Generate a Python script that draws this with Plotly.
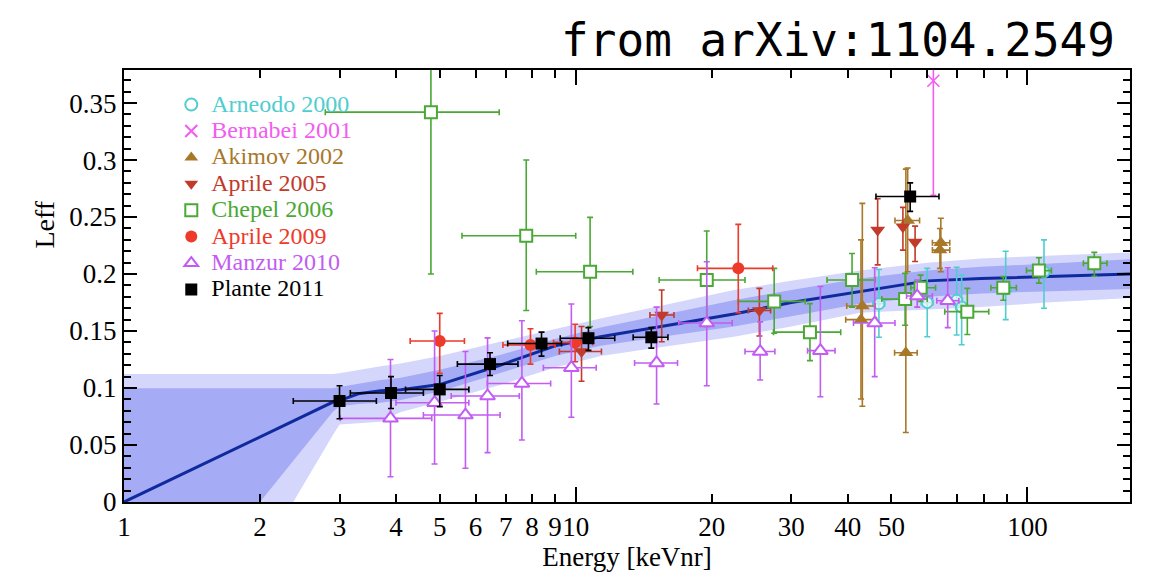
import plotly.graph_objects as go

# ---------------- band (fit) ----------------
band_E = [1, 2.0, 2.37, 2.9, 3.0, 3.3, 3.7, 4.1, 5, 6.8, 9, 11.35, 15, 22.4, 30, 42.6, 60, 79, 110, 170]
band_line = [0, 0.057, 0.0711, 0.0877, 0.089, 0.095, 0.0977, 0.0985, 0.103, 0.120, 0.137, 0.145, 0.153, 0.165, 0.175, 0.1845, 0.194, 0.196, 0.198, 0.200]
inner_lo = [0, 0, 0.0362, 0.0792, 0.084, 0.086, 0.087, 0.0895, 0.097, 0.113, 0.128, 0.137, 0.144, 0.154, 0.163, 0.174, 0.180, 0.183, 0.185, 0.187]
inner_hi = [0.0997, 0.0997, 0.0997, 0.0997, 0.101, 0.104, 0.107, 0.109, 0.116, 0.129, 0.143, 0.153, 0.163, 0.177, 0.186, 0.196, 0.203, 0.2064, 0.209, 0.213]
outer_lo = [0, 0, 0, 0.0587, 0.068, 0.069, 0.0705, 0.079, 0.088, 0.1026, 0.118, 0.128, 0.135, 0.145, 0.154, 0.166, 0.169, 0.171, 0.175, 0.179]
outer_hi = [0.1123, 0.1123, 0.1123, 0.1123, 0.113, 0.116, 0.119, 0.1216, 0.128, 0.1406, 0.152, 0.161, 0.171, 0.186, 0.194, 0.203, 0.210, 0.2137, 0.216, 0.219]

# ---------------- data series ----------------
arneodo_E = [46.9, 60.0, 69.7, 71.5, 89.5, 108.8]
arneodo_y = [0.174, 0.175, 0.177, 0.171, 0.187, 0.202]
arneodo_Elo = [45.5, 58.2, 67.6, 69.4, 87.0, 105.6]
arneodo_Ehi = [48.3, 61.8, 71.8, 73.6, 92.0, 112.0]
arneodo_ylo = [0.1445, 0.145, 0.1465, 0.138, 0.160, 0.170]
arneodo_yhi = [0.204, 0.205, 0.206, 0.199, 0.220, 0.230]

bernabei_E = [61.9]
bernabei_y = [0.3696]
bernabei_ylo = [0.269]
bernabei_yhi = [0.45]

akimov_E = [43.1, 42.8, 53.8, 54.3, 64.3, 64.0]
akimov_y = [0.172, 0.160, 0.131, 0.247, 0.2275, 0.221]
akimov_Elo = [39.8, 39.6, 50.8, 50.9, 61.6, 61.6]
akimov_Ehi = [46.0, 46.3, 57.0, 57.7, 67.3, 67.3]
akimov_ylo = [0.084, 0.0904, 0.061, 0.202, 0.202, 0.205]
akimov_yhi = [0.262, 0.230, 0.292, 0.293, 0.249, 0.240]

aprile05_E = [10.3, 15.5, 25.5, 46.6, 53.0, 56.4]
aprile05_y = [0.132, 0.164, 0.168, 0.2386, 0.2415, 0.228]
aprile05_Elo = [9.2, 14.6, 24.1, 46.6, 53.0, 56.4]
aprile05_Ehi = [11.4, 16.5, 27.0, 46.6, 53.0, 56.4]
aprile05_ylo = [0.106, 0.1406, 0.1456, 0.208, 0.221, 0.211]
aprile05_yhi = [0.154, 0.186, 0.1874, 0.266, 0.2585, 0.242]

chepel_E = [4.78, 7.77, 10.76, 19.5, 27.5, 33.0, 40.9, 53.6, 58.0, 73.6, 88.4, 106, 140.6]
chepel_y = [0.342, 0.2336, 0.202, 0.1947, 0.176, 0.149, 0.1947, 0.178, 0.188, 0.167, 0.188, 0.203, 0.2094]
chepel_Elo = [2.79, 5.6, 8.18, 15.3, 22.9, 27.4, 36.0, 47.6, 55.2, 65.6, 83.0, 99.5, 133]
chepel_Ehi = [6.77, 10.0, 13.38, 23.7, 32.2, 38.6, 46.0, 60.0, 62.6, 82.1, 94.5, 113, 150]
chepel_ylo = [0.200, 0.168, 0.154, 0.154, 0.148, 0.124, 0.171, 0.155, 0.176, 0.147, 0.177, 0.192, 0.198]
chepel_yhi = [0.45, 0.300, 0.2497, 0.2377, 0.205, 0.174, 0.218, 0.2006, 0.199, 0.1874, 0.1977, 0.2143, 0.219]

aprile09_E = [5.0, 7.94, 9.97, 22.9]
aprile09_y = [0.1412, 0.1377, 0.140, 0.205]
aprile09_Elo = [4.3, 6.9, 8.93, 18.6]
aprile09_Ehi = [5.67, 9.0, 10.9, 27.3]
aprile09_ylo = [0.113, 0.121, 0.123, 0.166]
aprile09_yhi = [0.1655, 0.152, 0.156, 0.2436]

manzur_E = [3.89, 4.87, 5.7, 6.38, 7.6, 9.78, 15.1, 19.5, 25.6, 34.8, 45.9, 57.0, 66.6]
manzur_y = [0.0734, 0.0871, 0.0763, 0.093, 0.104, 0.1178, 0.122, 0.157, 0.132, 0.1328, 0.157, 0.1807, 0.1766]
manzur_Elo = [3.01, 4.0, 4.6, 5.3, 6.37, 8.48, 13.5, 16.9, 23.7, 32.6, 41.2, 54.0, 63.0]
manzur_Ehi = [4.8, 5.8, 6.8, 7.5, 8.8, 11.1, 16.8, 22.2, 27.6, 37.5, 50.9, 61.6, 70.5]
manzur_ylo = [0.0222, 0.0333, 0.0296, 0.0433, 0.0544, 0.0743, 0.086, 0.102, 0.107, 0.0924, 0.110, 0.171, 0.153]
manzur_yhi = [0.125, 0.15, 0.132, 0.144, 0.159, 0.1737, 0.171, 0.2108, 0.158, 0.189, 0.2055, 0.1947, 0.2055]

plante_E = [3.0, 3.9, 5.0, 6.46, 8.4, 10.67, 14.7, 55]
plante_y = [0.0886, 0.0956, 0.0988, 0.121, 0.139, 0.1437, 0.1445, 0.268]
plante_Elo = [2.37, 3.17, 4.2, 5.47, 7.07, 9.24, 13.4, 46.2]
plante_Ehi = [3.62, 4.6, 5.8, 7.45, 9.3, 12.2, 16.0, 63.7]
plante_ylo = [0.073, 0.082, 0.0836, 0.111, 0.128, 0.133, 0.135, 0.255]
plante_yhi = [0.102, 0.110, 0.111, 0.131, 0.149, 0.153, 0.153, 0.280]

x_tickvals = [1, 2, 3, 4, 5, 6, 7, 8, 9, 10, 20, 30, 40, 50, 60, 70, 80, 90, 100]
x_ticktext = ["1", "2", "3", "4", "5", "6", "7", "8", "9", "10", "20", "30", "40", "50", "", "", "", "", "100"]
x_major = [1, 10, 100]

SERIF = "Liberation Serif, Times New Roman, serif"

fig = go.Figure()

# bands
fig.add_trace(go.Scatter(x=band_E + band_E[::-1], y=outer_hi + outer_lo[::-1], fill="toself",
                         fillcolor="rgb(212,214,251)", line=dict(width=0), mode="lines",
                         showlegend=False, hoverinfo="skip"))
fig.add_trace(go.Scatter(x=band_E + band_E[::-1], y=inner_hi + inner_lo[::-1], fill="toself",
                         fillcolor="rgb(166,171,245)", line=dict(width=0), mode="lines",
                         showlegend=False, hoverinfo="skip"))
fig.add_trace(go.Scatter(x=band_E, y=band_line, mode="lines", line=dict(color="#0f2a9c", width=3),
                         showlegend=False, hoverinfo="skip"))


def diff(a, b):
    return [abs(p - q) for p, q in zip(a, b)]


def series(name, color, E, y, Elo, Ehi, ylo, yhi, symbol, size, fill, lw=1.8):
    ex = None
    if Elo is not None:
        ex = dict(type="data", symmetric=False, array=diff(Ehi, E), arrayminus=diff(E, Elo),
                  color=color, thickness=1.6, width=3)
    ey = dict(type="data", symmetric=False, array=diff(yhi, y), arrayminus=diff(y, ylo),
              color=color, thickness=1.6, width=3)
    fig.add_trace(go.Scatter(
        x=E, y=y, mode="markers",
        name='<span style="font-size:24px;color:%s">%s</span>' % (color, name),
        marker=dict(symbol=symbol, size=size, color=fill, line=dict(color=color, width=lw)),
        error_x=ex, error_y=ey))


series("Arneodo 2000", "#4fcdd0", arneodo_E, arneodo_y, arneodo_Elo, arneodo_Ehi, arneodo_ylo, arneodo_yhi,
       "circle", 11, "rgba(255,255,255,0.6)")
series("Bernabei 2001", "#f25cf0", bernabei_E, bernabei_y, None, None, bernabei_ylo, bernabei_yhi,
       "x-thin", 12, "#f25cf0", 1.6)
series("Akimov 2002", "#a8782a", akimov_E, akimov_y, akimov_Elo, akimov_Ehi, akimov_ylo, akimov_yhi,
       "triangle-up", 13, "#a8782a", 0)
series("Aprile 2005", "#c23a2a", aprile05_E, aprile05_y, aprile05_Elo, aprile05_Ehi, aprile05_ylo, aprile05_yhi,
       "triangle-down", 13, "#c23a2a", 0)
series("Chepel 2006", "#4aa835", chepel_E, chepel_y, chepel_Elo, chepel_Ehi, chepel_ylo, chepel_yhi,
       "square", 12, "white", 2)
series("Aprile 2009", "#ee3a2a", aprile09_E, aprile09_y, aprile09_Elo, aprile09_Ehi, aprile09_ylo, aprile09_yhi,
       "circle", 12, "#ee3a2a", 0)
series("Manzur 2010", "#c25cf2", manzur_E, manzur_y, manzur_Elo, manzur_Ehi, manzur_ylo, manzur_yhi,
       "triangle-up", 13, "white", 2)
series("Plante 2011", "#000000", plante_E, plante_y, plante_Elo, plante_Ehi, plante_ylo, plante_yhi,
       "square", 12, "#000000", 0)

XR = [0, 2.227]

fig.update_layout(
    width=1151, height=574,
    margin=dict(l=124, r=21, t=70, b=72),
    paper_bgcolor="white", plot_bgcolor="white",
    font=dict(family=SERIF, color="black"),
    title=dict(text="from arXiv:1104.2549", x=1115 / 1151, xanchor="right", xref="container",
               y=1 - 40 / 574, yanchor="middle", yref="container",
               font=dict(family="DejaVu Sans Mono", size=46, color="black")),
    showlegend=True,
    legend=dict(x=0.047, y=0.962, xanchor="left", yanchor="top", bgcolor="rgba(0,0,0,0)",
                font=dict(family=SERIF, size=18), tracegroupgap=0, itemsizing="constant"),
    xaxis=dict(type="log", range=XR, tickmode="array", tickvals=x_tickvals, ticktext=x_ticktext,
               tickangle=0, automargin=False,
               ticks="inside", ticklen=8, tickwidth=1.5, tickcolor="black",
               showline=True, linecolor="black", linewidth=2, mirror="ticks",
               showgrid=False, zeroline=False,
               tickfont=dict(family=SERIF, size=27, color="black"),
               title=dict(text="Energy [keVnr]", font=dict(family=SERIF, size=27), standoff=4)),
    xaxis2=dict(type="log", range=XR, overlaying="x", side="bottom", tickmode="array", tickvals=x_major,
                ticks="inside", ticklen=15, tickwidth=1.8, tickcolor="black", showticklabels=False,
                mirror="ticks", showline=False, showgrid=False, zeroline=False, automargin=False),
    yaxis=dict(range=[0, 0.379], tickmode="linear", tick0=0, dtick=0.05, automargin=False,
               ticks="inside", ticklen=13, tickwidth=1.8, tickcolor="black",
               minor=dict(dtick=0.01, ticks="inside", ticklen=7, tickwidth=1.5, tickcolor="black"),
               showline=True, linecolor="black", linewidth=2, mirror="ticks",
               showgrid=False, zeroline=False,
               tickfont=dict(family=SERIF, size=27, color="black")),
    annotations=[dict(text="Leff", textangle=-90, xref="paper", yref="paper",
                      x=-0.08, y=(502 - 225) / 432, xanchor="center", yanchor="middle",
                      showarrow=False, font=dict(family=SERIF, size=28, color="black"))],
)

# dummy trace so xaxis2 exists
fig.add_trace(go.Scatter(x=[10], y=[None], xaxis="x2", showlegend=False, hoverinfo="skip"))

fig.write_html("out.html")
